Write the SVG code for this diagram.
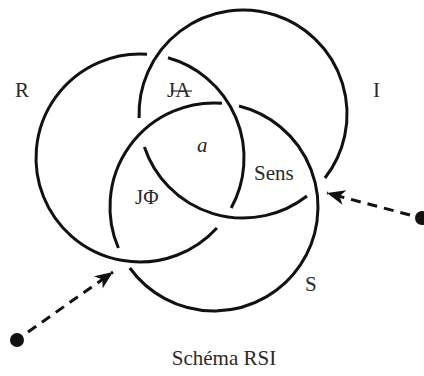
<svg xmlns="http://www.w3.org/2000/svg" width="424" height="376" viewBox="0 0 424 376">
<defs>
<style>
.ring{fill:none;stroke:#111;stroke-width:3;stroke-linecap:butt}
.lbl{font-family:"Liberation Serif","Times New Roman",serif;font-size:21px;fill:#2a2a2a}
.arrow{fill:none;stroke:#111;stroke-width:3;stroke-dasharray:10 7}
.dot{fill:#111}
</style>
<marker id="head" viewBox="-19 -8 20 16" markerWidth="20" markerHeight="16" refX="0" refY="0" orient="auto" markerUnits="userSpaceOnUse">
<path d="M0,0 L-18,-7.5 L-13,0 L-18,7.5 Z" fill="#111"/>
</marker>
</defs>
<rect width="424" height="376" fill="#fff"/>
<g id="ring-R">
<path class="ring" d="M168,57.8 A104,104 0 0 1 231.2,208"/>
<path class="ring" d="M216.9,228 A104,104 0 1 1 147,54.2"/>
</g>
<g id="ring-I">
<path class="ring" d="M307,196 A104,104 0 0 1 144.4,147"/>
<path class="ring" d="M139.1,118 A104,104 0 1 1 325,178"/>
</g>
<g id="ring-S">
<path class="ring" d="M239,106 A104,104 0 1 1 129.8,268"/>
<path class="ring" d="M118.4,248 A104,104 0 0 1 222,103.3"/>
</g>
<g id="labels">
<text class="lbl" x="15" y="97">R</text>
<text class="lbl" x="373" y="97">I</text>
<text class="lbl" x="305" y="291">S</text>
<g id="label-JA">
<text class="lbl" x="167" y="97">JA</text>
<line x1="171" y1="91" x2="192" y2="91" stroke="#2a2a2a" stroke-width="1.2"/>
</g>
<text class="lbl" x="197" y="152" font-style="italic">a</text>
<text class="lbl" x="254" y="180">Sens</text>
<text class="lbl" x="135" y="204">JΦ</text>
<text class="lbl" x="224" y="365" text-anchor="middle">Schéma RSI</text>
</g>
<g id="connectors">
<circle class="dot" cx="17" cy="340" r="7"/>
<path class="arrow" d="M28,332 L113,272" marker-end="url(#head)"/>
<circle class="dot" cx="422" cy="218" r="7"/>
<path class="arrow" d="M410,215 L327,193" marker-end="url(#head)"/>
</g>
</svg>
